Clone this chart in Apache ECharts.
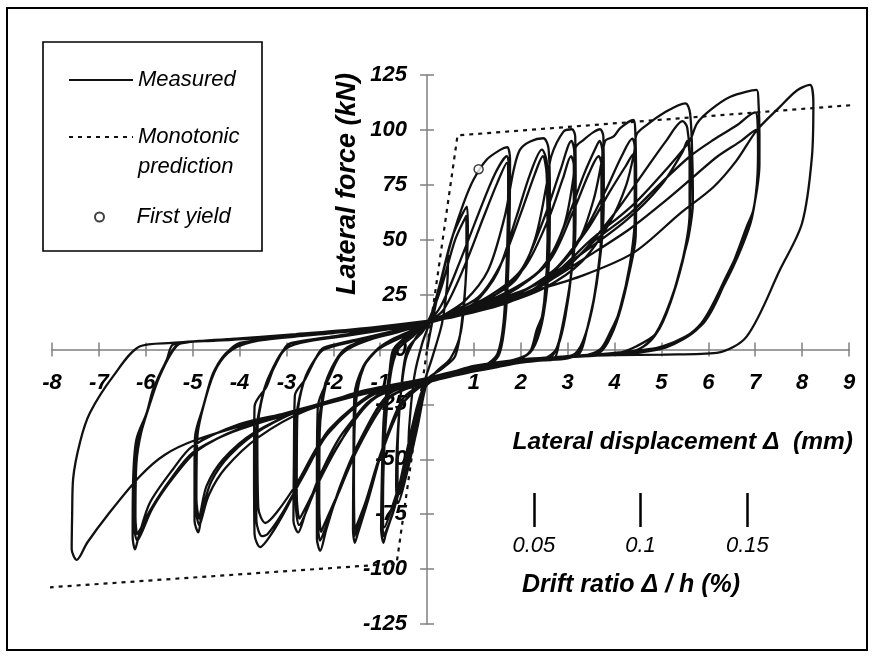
<!DOCTYPE html>
<html><head><meta charset="utf-8">
<script src="https://cdn.jsdelivr.net/npm/echarts@6/dist/echarts.min.js"></script>
<style>html,body{margin:0;padding:0;background:#fff}#c{width:875px;height:657px}</style>
</head><body><div id="c"></div>
<script>
const FONT = 'Liberation Sans, Arial, Helvetica, sans-serif';

// Measured hysteresis: [lateral displacement (mm), lateral force (kN)], cycle by cycle
const cycleElastic = [[0,0],[0.2,22],[0.4,40],[0.45,43],[0.43,30],[0.32,12],[0.12,-3],[-0.1,-18],[-0.3,-40],[-0.4,-48],[-0.38,-35],[-0.27,-12],[-0.1,3],[0.05,12]];
const cycle0a = [[0.3,32],[0.55,52],[0.85,65],[0.87,55],[0.82,30],[0.72,8],[0.5,-4],[0.2,-10],[0,-15],[-0.2,-35],[-0.45,-58],[-0.62,-70],[-0.66,-60],[-0.6,-30],[-0.46,-5],[-0.25,5],[0,12]];
const cycle0b = [[0.3,28],[0.6,50],[0.84,61],[0.84,42],[0.76,16],[0.6,-3],[0.3,-9],[0,-14],[-0.25,-38],[-0.5,-60],[-0.6,-66],[-0.63,-50],[-0.56,-20],[-0.42,0],[-0.1,8],[0.05,13]];
const cycle1a = [[0.3,32],[0.55,52],[0.78,66.7],[0.99,77.3],[1.27,86.4],[1.56,90.9],[1.71,92.1],[1.77,86.4],[1.76,60],[1.72,30],[1.65,10],[1.52,-3],[1.2,-8],[0.6,-11],[0,-15],[-0.2,-25],[-0.45,-48],[-0.7,-72],[-0.88,-84],[-0.93,-88],[-0.98,-82],[-0.96,-55],[-0.92,-30],[-0.8,-10],[-0.72,0],[-0.43,6],[0,12]];
const cycle1b = [[0.3,20],[0.7,40],[1.1,62],[1.45,80],[1.7,88],[1.75,80],[1.72,45],[1.66,15],[1.55,0],[1.35,-6],[0.8,-10],[0,-15],[-0.2,-28],[-0.45,-52],[-0.72,-74],[-0.9,-84],[-0.93,-85],[-0.96,-70],[-0.93,-35],[-0.8,-10],[-0.65,1],[-0.3,7],[0,12]];
const cycle1c = [[0.35,18],[0.8,38],[1.2,60],[1.5,76],[1.7,85],[1.73,74],[1.7,40],[1.63,12],[1.5,-2],[1.25,-7],[0.6,-11],[0,-16],[-0.25,-32],[-0.5,-55],[-0.75,-72],[-0.91,-81],[-0.94,-72],[-0.9,-40],[-0.78,-12],[-0.62,0],[-0.3,6],[0,12]];
const cycle2a = [[0.3,15],[0.8,22],[1.3,36],[1.65,60],[1.85,82],[1.98,90.9],[2.2,94.7],[2.48,96.2],[2.59,91.7],[2.62,70],[2.6,40],[2.5,18],[2.34,9],[2.2,-1],[2.0,-4],[1.5,-7],[1.0,-9],[0.5,-11],[0,-15],[-0.5,-22],[-0.9,-42],[-1.25,-68],[-1.48,-84],[-1.54,-88],[-1.58,-82],[-1.57,-50],[-1.55,-21],[-1.36,-7.6],[-1.07,0],[-0.8,4],[-0.4,8],[0,12]];
const cycle2b = [[0.4,15],[1.0,21],[1.5,35],[1.9,60],[2.2,80],[2.45,91],[2.55,86],[2.6,60],[2.56,30],[2.45,12],[2.25,0],[2.0,-4],[1.4,-7],[0.7,-10],[0,-15],[-0.5,-24],[-0.95,-46],[-1.3,-70],[-1.5,-82],[-1.55,-85],[-1.57,-70],[-1.54,-30],[-1.4,-10],[-1.1,-1],[-0.8,3],[-0.4,7],[0,12]];
const cycle2c = [[0.4,16],[1.1,24],[1.6,40],[2.0,62],[2.3,80],[2.47,88],[2.55,80],[2.57,50],[2.5,22],[2.35,6],[2.15,-2],[1.8,-5],[1.0,-9],[0,-15],[-0.6,-27],[-1.0,-48],[-1.32,-70],[-1.5,-80],[-1.54,-82],[-1.56,-60],[-1.52,-25],[-1.35,-8],[-1.05,0],[-0.6,5],[0,12]];
const cycle3a = [[0.4,16],[1.2,22],[1.9,32],[2.3,50],[2.55,75],[2.65,88],[2.91,99.2],[3.09,100.3],[3.16,97],[3.17,75],[3.16,51.5],[3.08,35],[2.98,21.2],[2.84,6],[2.7,-4.5],[2.4,-5],[2.0,-6],[1.5,-8],[1.0,-10],[0.5,-12],[0,-15],[-0.8,-20],[-1.4,-40],[-1.85,-62],[-2.15,-82],[-2.28,-91.7],[-2.35,-86],[-2.35,-60],[-2.33,-26],[-2.07,-12],[-1.86,-3],[-1.57,1.5],[-1.0,6],[-0.5,9],[0,12]];
const cycle3b = [[0.5,16],[1.3,24],[2.0,36],[2.5,60],[2.85,82],[3.08,95],[3.14,90],[3.15,60],[3.08,35],[2.95,15],[2.8,2],[2.6,-4],[2.0,-6],[1.0,-10],[0,-15],[-0.8,-22],[-1.45,-44],[-1.9,-66],[-2.18,-82],[-2.28,-87],[-2.33,-78],[-2.32,-40],[-2.2,-18],[-2.0,-7],[-1.75,0],[-1.3,4],[-0.6,8],[0,12]];
const cycle3c = [[0.5,16],[1.4,24],[2.1,38],[2.6,60],[2.9,78],[3.07,88],[3.13,84],[3.13,55],[3.05,30],[2.9,12],[2.75,0],[2.5,-4],[1.8,-6],[0.9,-10],[0,-15],[-0.9,-23],[-1.5,-46],[-1.95,-68],[-2.2,-80],[-2.26,-83],[-2.3,-72],[-2.29,-38],[-2.15,-15],[-1.95,-5],[-1.7,1],[-1.2,5],[-0.5,9],[0,12]];
const cycle4a = [[0.5,16],[1.5,24],[2.4,36],[2.9,55],[3.12,78],[3.17,92],[3.34,95.5],[3.55,99],[3.69,100.3],[3.76,97],[3.77,75],[3.76,59],[3.62,30.3],[3.41,9],[3.26,-1.5],[3.0,-4],[2.4,-5],[1.6,-7],[0.8,-10],[0,-15],[-1.0,-20],[-1.8,-38],[-2.3,-58],[-2.6,-75],[-2.75,-83.3],[-2.85,-78],[-2.84,-50],[-2.82,-21],[-2.6,-13.6],[-2.35,-3],[-2.21,0.8],[-1.6,4],[-0.8,8],[0,12]];
const cycle4b = [[0.5,15],[1.6,24],[2.5,38],[3.0,60],[3.35,80],[3.6,92],[3.68,95],[3.74,90],[3.74,60],[3.6,28],[3.4,8],[3.2,-2],[2.8,-4],[2.0,-6],[1.0,-9],[0,-15],[-1.1,-22],[-1.85,-42],[-2.35,-62],[-2.62,-76],[-2.73,-80],[-2.8,-70],[-2.8,-35],[-2.65,-16],[-2.4,-5],[-2.2,0],[-1.5,4],[-0.7,8],[0,12]];
const cycle4c = [[0.5,15],[1.7,25],[2.6,40],[3.1,62],[3.45,80],[3.66,88],[3.72,84],[3.72,55],[3.58,26],[3.38,7],[3.15,-2],[2.6,-4],[1.8,-6],[0.9,-10],[0,-15],[-1.2,-23],[-1.9,-44],[-2.4,-64],[-2.64,-74],[-2.72,-77],[-2.78,-66],[-2.77,-32],[-2.62,-14],[-2.38,-4],[-2.15,1],[-1.4,5],[-0.6,8.5],[0,12]];
const cycle5a = [[0.5,15],[1.5,22],[2.5,32],[3.2,48],[3.55,68],[3.72,85],[3.8,95],[3.98,97],[4.12,100.8],[4.4,104.5],[4.44,100],[4.46,75],[4.45,51.5],[4.33,36.4],[4.12,18.2],[3.9,7.6],[3.69,0],[3.3,-3],[2.5,-4],[1.5,-7],[0.7,-10],[0,-15],[-1.0,-18],[-2.07,-36],[-2.57,-54],[-2.99,-72],[-3.35,-85],[-3.56,-90],[-3.68,-84],[-3.69,-55],[-3.68,-26],[-3.42,-16.7],[-3.28,-9],[-3.03,0.8],[-2.89,3],[-2.0,6],[-1.0,9],[0,12]];
const cycle5b = [[0.5,15],[1.6,22],[2.6,34],[3.3,52],[3.8,72],[4.15,88],[4.38,96],[4.43,92],[4.44,65],[4.35,40],[4.15,20],[3.92,6],[3.7,-1],[3.2,-3],[2.2,-5],[1.2,-8],[0,-15],[-1.1,-20],[-2.1,-38],[-2.65,-58],[-3.1,-75],[-3.4,-84],[-3.52,-85],[-3.64,-78],[-3.65,-40],[-3.5,-20],[-3.3,-9],[-3.05,0],[-2.7,3],[-1.8,6],[-0.9,9],[0,12]];
const cycle5c = [[0.5,15],[1.7,23],[2.7,36],[3.4,54],[3.9,72],[4.25,84],[4.4,89],[4.43,84],[4.43,60],[4.32,38],[4.12,19],[3.88,5],[3.65,-1.5],[3.0,-3],[2.0,-5],[1.0,-8.5],[0,-15],[-1.2,-21],[-2.2,-40],[-2.75,-60],[-3.2,-74],[-3.45,-79],[-3.6,-72],[-3.62,-38],[-3.47,-18],[-3.25,-7],[-3.0,0.5],[-2.5,4],[-1.5,7],[0,12]];
const cycle6a = [[0.5,15],[1.5,20],[2.5,28],[3.3,40],[3.9,58],[4.25,75],[4.42,90],[4.47,98],[4.69,102.3],[5.04,107.6],[5.51,112.1],[5.61,107.6],[5.66,85],[5.67,66.7],[5.58,51.5],[5.47,42.4],[5.19,21.2],[4.9,7.6],[4.47,1.5],[4.0,-2],[3.0,-3],[2.0,-5],[1.0,-8],[0,-14],[-1.2,-19],[-2.5,-26],[-3.5,-36],[-4.2,-48],[-4.6,-60],[-4.8,-74],[-4.88,-83.3],[-4.96,-78],[-4.96,-55],[-4.95,-40],[-4.77,-25.8],[-4.56,-10.6],[-4.27,-1.5],[-3.99,3],[-3.0,5.5],[-2.0,7.5],[-1.0,9.5],[0,12.5]];
const cycle6b = [[0.5,15],[1.5,21],[2.5,30],[3.3,44],[4.0,62],[4.6,80],[5.1,95],[5.45,104],[5.55,101],[5.62,80],[5.6,58],[5.45,40],[5.15,19],[4.85,6],[4.5,0],[4.0,-2],[3.0,-3.5],[1.8,-6],[0.8,-10],[0,-15],[-1.3,-20],[-2.6,-28],[-3.6,-40],[-4.3,-54],[-4.65,-66],[-4.82,-78],[-4.86,-80],[-4.93,-72],[-4.93,-42],[-4.75,-24],[-4.52,-9],[-4.2,0],[-3.8,3.5],[-2.8,6],[-1.6,8.5],[0,12.5]];
const cycle6c = [[0.5,15],[1.27,21],[2.27,29],[3.19,42],[4.26,59],[5.0,75],[5.45,90],[5.55,95],[5.6,88],[5.6,62],[5.42,38],[5.1,17],[4.8,5],[4.4,-1],[3.5,-2.5],[2.4,-4],[1.4,-7],[0.5,-11],[0,-14],[-1.3,-19],[-2.6,-27],[-3.7,-38],[-4.35,-50],[-4.7,-62],[-4.83,-74],[-4.86,-77],[-4.92,-68],[-4.9,-40],[-4.72,-22],[-4.48,-8],[-4.15,0],[-3.6,4],[-2.5,6.5],[-1.2,9.5],[0,13]];
const cycle7a = [[0.6,15],[1.8,22],[2.7,34],[3.5,50],[4.4,66],[5.1,82],[5.6,95],[5.76,103],[6.04,109],[6.47,115.1],[7.03,118.2],[7.07,112.1],[7.09,98],[7.09,84.8],[6.96,63.6],[6.82,56],[6.47,36.4],[5.9,12.1],[5.04,1.5],[4.0,-1.5],[3.0,-3],[2.0,-5],[1.0,-8],[0,-13],[-1.4,-19],[-2.07,-23.5],[-3.0,-29],[-4.0,-34],[-5.0,-44],[-5.42,-54.5],[-5.91,-69.7],[-6.15,-85],[-6.23,-91],[-6.28,-85],[-6.27,-60],[-6.2,-41],[-5.98,-28.8],[-5.84,-18],[-5.55,-4.5],[-5.41,2.3],[-4.5,4],[-3.0,6],[-1.5,9],[0,13]];
const cycle7b = [[0.6,15],[1.8,22],[2.8,34],[3.6,50],[4.33,62],[5.0,76],[5.61,88],[6.11,95.5],[6.6,102],[7.0,108],[7.05,103],[7.06,85],[6.95,62],[6.75,50],[6.4,34],[5.85,12],[5.2,2],[4.3,-1.5],[3.2,-3],[2.2,-4.5],[1.2,-7],[0,-13],[-1.4,-20],[-2.1,-24],[-3.0,-30],[-4.0,-36],[-4.9,-46],[-5.4,-58],[-5.85,-72],[-6.1,-84],[-6.18,-87],[-6.25,-80],[-6.24,-55],[-6.15,-40],[-5.95,-27],[-5.8,-16],[-5.5,-3],[-5.3,2.5],[-4.3,4.5],[-2.8,7],[-1.3,9.5],[0,13]];
const cycle7c = [[0.6,15],[1.6,21],[2.5,30],[3.4,42],[4.33,55],[5.1,68],[5.65,78],[6.2,88],[6.7,95],[7.02,100],[7.06,94],[7.05,80],[6.93,60],[6.7,46],[6.35,30],[5.8,10],[5.1,1],[4.2,-2],[3.1,-3.4],[2.1,-4.8],[1.1,-7.5],[0,-13.5],[-1.4,-20.5],[-2.2,-25],[-3.2,-31],[-4.2,-38],[-5.0,-47],[-5.5,-60],[-5.9,-73],[-6.12,-82],[-6.18,-84],[-6.22,-76],[-6.2,-52],[-6.1,-38],[-5.9,-24],[-5.72,-13],[-5.45,-1.5],[-5.25,2.8],[-4.0,5],[-2.5,7.5],[-1.2,10],[0,13]];
const cycle8 = [[0.6,15],[1.2,20],[2.13,25.8],[3.27,33.3],[4.4,44],[5.4,62],[6.11,74],[6.6,86],[7.04,100],[7.53,110.6],[7.82,116.7],[7.96,118.9],[8.17,120.5],[8.24,112.1],[8.21,87.9],[8.0,57.6],[7.53,36.4],[6.82,6],[6.18,-1.5],[5.04,-2.3],[4.0,-2.6],[3.0,-3.2],[2.0,-4.5],[1.0,-7.5],[0.49,-10.6],[0,-13],[-1.0,-18],[-2.07,-23.5],[-3.49,-31.8],[-4.91,-41],[-5.6,-48],[-6.12,-57.6],[-6.8,-75],[-7.25,-88],[-7.47,-95.8],[-7.58,-91],[-7.57,-75],[-7.55,-59],[-7.4,-42],[-7.19,-28.8],[-6.69,-12],[-6.12,1.5],[-5.45,3],[-4.0,5],[-2.0,8],[0,12]];

const measured = [].concat(cycleElastic, cycle0a, cycle0b, cycle1a, cycle1b, cycle1c,
  cycle2a, cycle2b, cycle2c, cycle3a, cycle3b, cycle3c, cycle4a, cycle4b, cycle4c,
  cycle5a, cycle5b, cycle5c, cycle6a, cycle6b, cycle6c, cycle7a, cycle7b, cycle7c, cycle8);

// Monotonic prediction and first yield
const monotonicPrediction = [[-8.05,-108.3],[-0.65,-97.5],[0.65,97.5],[9.13,111.4]];
const firstYield = [[1.10,82.1]];

// Drift ratio scale
const storeyHeightMm = 4554;
const driftTicks = [0.05, 0.1, 0.15];

// Axis ranges
const X_MIN = -8, X_MAX = 9, X_STEP = 1;
const Y_MIN = -125, Y_MAX = 125, Y_STEP = 25;

// Layout
const W = 875, H = 657;
const GRID = {left:52, right:26, top:75, bottom:33};
const plotW = W - GRID.left - GRID.right, plotH = H - GRID.top - GRID.bottom;
const xAxisOffset = -plotH * (0 - Y_MIN) / (Y_MAX - Y_MIN);   // move x axis up to force = 0
const yAxisOffset = -plotW * (0 - X_MIN) / (X_MAX - X_MIN);   // move y axis right to displacement = 0

const AXIS_GRAY = '#808080';
const tickLabel = {fontSize:22, fontWeight:'bold', fontStyle:'italic', color:'#000', fontFamily:FONT};
const legendText = {fontSize:22, fontStyle:'italic', color:'#000', fontFamily:FONT, lineHeight:30};

const chart = echarts.init(document.getElementById('c'), null, {renderer:'canvas'});
chart.setOption({
  animation:false,
  backgroundColor:'#fff',
  grid:[
    Object.assign({outerBoundsMode:'none', containLabel:false}, GRID),
    {left:52, right:26, top:493, bottom:130, outerBoundsMode:'none', containLabel:false}
  ],
  legend:[
    {data:['Measured'], left:68, top:65, padding:0, itemWidth:64, itemHeight:12, selectedMode:false,
      itemStyle:{opacity:0}, textStyle:legendText},
    {data:['Monotonic prediction'], left:68, top:92, padding:0, itemWidth:64, itemHeight:12, selectedMode:false,
      itemStyle:{opacity:0}, formatter:' \nMonotonic\nprediction', textStyle:legendText},
    {data:['First yield'], left:94, top:202, padding:0, itemWidth:64, itemHeight:9, selectedMode:false, textStyle:legendText}
  ],
  xAxis:[
    {gridIndex:0, type:'value', min:X_MIN, max:X_MAX, interval:X_STEP, position:'bottom', offset:xAxisOffset,
      axisLine:{onZero:false, lineStyle:{color:AXIS_GRAY, width:1.5}},
      axisTick:{length:7, lineStyle:{color:AXIS_GRAY, width:1.5}},
      axisLabel:Object.assign({margin:22, formatter:v => v === 0 ? '' : String(v)}, tickLabel),
      splitLine:{show:false}},
    {gridIndex:0, type:'value', min:X_MIN, max:X_MAX, interval:X_STEP, position:'bottom', offset:xAxisOffset,
      axisLine:{show:false, onZero:false},
      axisTick:{inside:true, length:7, lineStyle:{color:AXIS_GRAY, width:1.5}},
      axisLabel:{show:false}, splitLine:{show:false}},
    {gridIndex:1, type:'value', min:X_MIN/storeyHeightMm*100, max:X_MAX/storeyHeightMm*100, position:'bottom',
      axisLine:{show:false, onZero:false},
      axisTick:{show:true, inside:true, length:34, customValues:driftTicks, lineStyle:{color:'#000', width:2.5}},
      axisLabel:{show:true, customValues:driftTicks, margin:8, fontSize:22, fontStyle:'italic', color:'#000', fontFamily:FONT, formatter:v => String(v)},
      splitLine:{show:false}}
  ],
  yAxis:[
    {gridIndex:0, type:'value', min:Y_MIN, max:Y_MAX, interval:Y_STEP, position:'left', offset:yAxisOffset,
      axisLine:{onZero:false, lineStyle:{color:AXIS_GRAY, width:1.5}},
      axisTick:{length:7, lineStyle:{color:AXIS_GRAY, width:1.5}},
      axisLabel:Object.assign({margin:20}, tickLabel),
      splitLine:{show:false}},
    {gridIndex:0, type:'value', min:Y_MIN, max:Y_MAX, interval:Y_STEP, position:'left', offset:yAxisOffset,
      axisLine:{show:false, onZero:false},
      axisTick:{inside:true, length:7, lineStyle:{color:AXIS_GRAY, width:1.5}},
      axisLabel:{show:false}, splitLine:{show:false}},
    {gridIndex:1, type:'value', min:0, max:1, show:false}
  ],
  series:[
    {name:'Measured', type:'line', xAxisIndex:0, yAxisIndex:0, data:measured, symbol:'none', smooth:0.3,
      itemStyle:{color:'#111'}, lineStyle:{color:'#111', width:2.3}, z:3, silent:true},
    {name:'Monotonic prediction', type:'line', xAxisIndex:0, yAxisIndex:0, data:monotonicPrediction, symbol:'none', clip:false,
      itemStyle:{color:'#111'}, lineStyle:{color:'#111', width:2.2, type:[4,5]}, z:4, silent:true},
    {name:'First yield', type:'scatter', xAxisIndex:0, yAxisIndex:0, data:firstYield, symbol:'circle', symbolSize:9,
      itemStyle:{color:'#fff', borderColor:'#111', borderWidth:1.5}, z:5, silent:true}
  ],
  graphic:[
    {type:'rect', shape:{x:7, y:8, width:860, height:642}, style:{fill:null, stroke:'#000', lineWidth:2}, silent:true, z:-10},
    {type:'rect', shape:{x:43, y:42, width:219, height:209}, style:{fill:null, stroke:'#000', lineWidth:1.6}, silent:true},
    {type:'text', x:853, y:442, silent:true, style:{text:'Lateral displacement \u0394  (mm)', align:'right', verticalAlign:'middle', fontSize:24.5, fontWeight:'bold', fontStyle:'italic', fontFamily:FONT, fill:'#000'}},
    {type:'text', x:522, y:585, silent:true, style:{text:'Drift ratio \u0394 / h (%)', align:'left', verticalAlign:'middle', fontSize:25, fontWeight:'bold', fontStyle:'italic', fontFamily:FONT, fill:'#000'}},
    {type:'text', x:348, y:184, rotation:Math.PI/2, silent:true, style:{text:'Lateral force (kN)', align:'center', verticalAlign:'middle', fontSize:27, fontWeight:'bold', fontStyle:'italic', fontFamily:FONT, fill:'#000'}}
  ]
});
</script></body></html>
